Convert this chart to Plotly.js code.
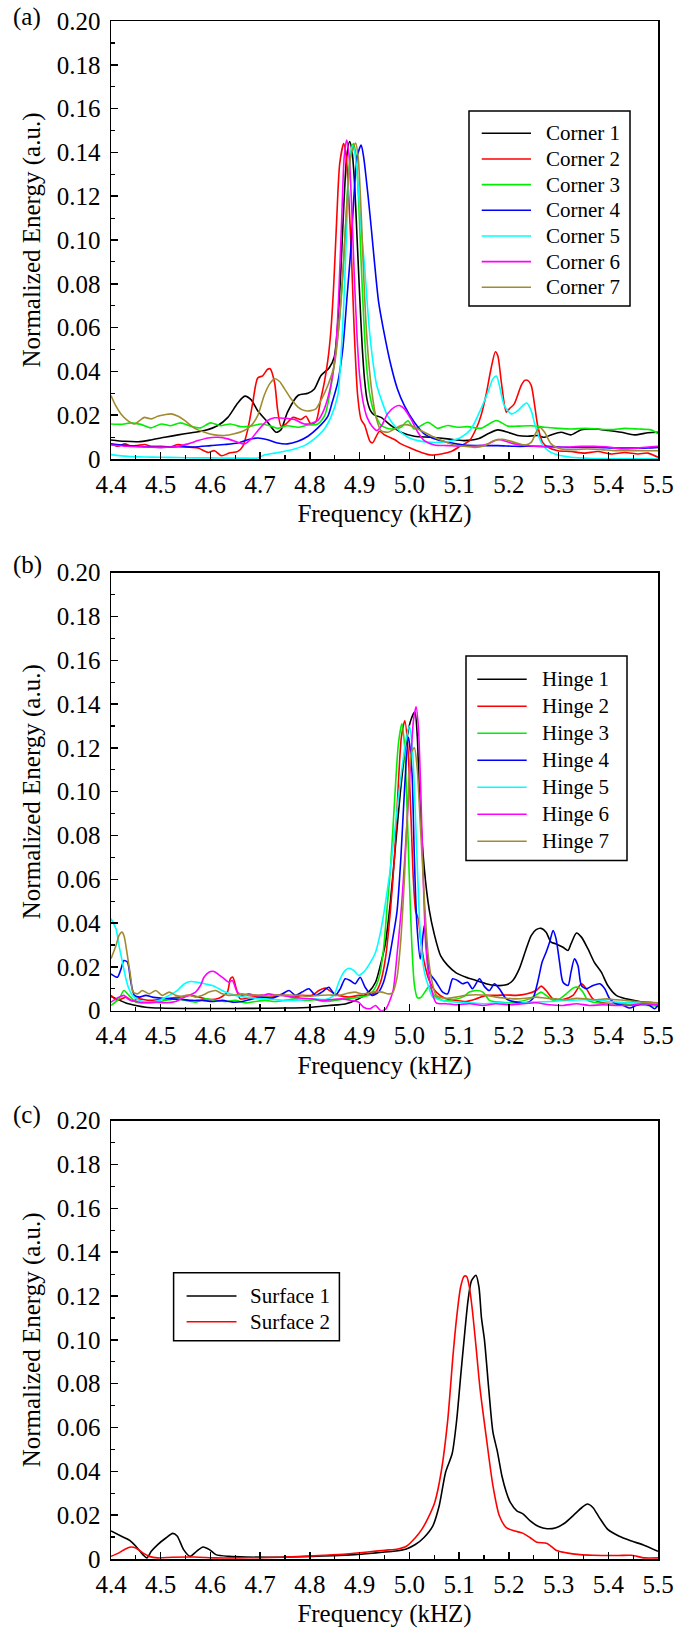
<!DOCTYPE html>
<html>
<head>
<meta charset="utf-8">
<script src="https://cdn.plot.ly/plotly-3.0.1.min.js"></script>
<style>
html,body{margin:0;padding:0;background:#fff;}
#chart{width:677px;height:1631px;}
</style>
</head>
<body>
<div id="chart"></div>
<script>
// ---------- tick labels ----------
const freqTicks = [4.4,4.5,4.6,4.7,4.8,4.9,5.0,5.1,5.2,5.3,5.4,5.5];
const freqTickText = ['4.4','4.5','4.6','4.7','4.8','4.9','5.0','5.1','5.2','5.3','5.4','5.5'];
const energyTicks = [0,0.02,0.04,0.06,0.08,0.10,0.12,0.14,0.16,0.18,0.20];
const energyTickText = ['0','0.02','0.04','0.06','0.08','0.10','0.12','0.14','0.16','0.18','0.20'];

// ---------- series names / colours ----------
const cornerNames = ['Corner 1','Corner 2','Corner 3','Corner 4','Corner 5','Corner 6','Corner 7'];
const hingeNames = ['Hinge 1','Hinge 2','Hinge 3','Hinge 4','Hinge 5','Hinge 6','Hinge 7'];
const surfaceNames = ['Surface 1','Surface 2'];
const seriesColors = ['#000000','#ff0000','#00ee00','#0000ff','#00ffff','#ff00ff','#a08c30'];

// ---------- panel (a): corners ----------
const corner1_f = [4.40,4.427,4.455,4.48,4.508,4.535,4.562,4.588,4.615,4.635,4.655,4.669,4.682,4.695,4.715,4.732,4.742,4.755,4.776,4.796,4.809,4.822,4.839,4.849,4.856,4.862,4.868,4.874,4.880,4.885,4.890,4.895,4.900,4.905,4.910,4.915,4.922,4.930,4.943,4.963,4.983,5.01,5.044,5.077,5.11,5.138,5.158,5.178,5.198,5.218,5.238,5.258,5.272,5.285,5.305,5.325,5.346,5.372,5.40,5.426,5.453,5.48,5.50];
const corner1_v = [0.0087,0.0081,0.0079,0.0087,0.0099,0.011,0.012,0.013,0.0153,0.019,0.0256,0.0287,0.027,0.022,0.0168,0.0122,0.0134,0.0214,0.029,0.030,0.032,0.038,0.0417,0.0466,0.062,0.085,0.115,0.138,0.145,0.140,0.125,0.100,0.075,0.052,0.036,0.027,0.022,0.020,0.019,0.0153,0.0122,0.0104,0.0099,0.0092,0.0084,0.0092,0.0115,0.0133,0.0122,0.0107,0.0104,0.0107,0.0099,0.011,0.0122,0.011,0.0134,0.0137,0.013,0.0122,0.011,0.012,0.0122];

const corner2_f = [4.40,4.414,4.428,4.441,4.455,4.468,4.481,4.501,4.52,4.535,4.555,4.575,4.595,4.608,4.622,4.638,4.655,4.665,4.675,4.685,4.695,4.705,4.715,4.72,4.729,4.735,4.742,4.752,4.766,4.782,4.792,4.802,4.812,4.822,4.829,4.836,4.842,4.848,4.854,4.86,4.868,4.873,4.878,4.884,4.889,4.896,4.903,4.91,4.921,4.926,4.94,4.95,4.97,4.983,5.003,5.024,5.044,5.064,5.084,5.104,5.121,5.134,5.144,5.154,5.164,5.173,5.178,5.185,5.195,5.201,5.211,5.225,5.232,5.238,5.245,5.252,5.258,5.268,5.279,5.299,5.325,5.352,5.379,5.406,5.433,5.46,5.48,5.50];
const corner2_v = [0.0069,0.0058,0.0069,0.0058,0.0063,0.0066,0.0058,0.0058,0.0055,0.0066,0.0055,0.005,0.003,0.0038,0.0015,0.0027,0.0035,0.0058,0.0134,0.0256,0.037,0.038,0.041,0.0412,0.0348,0.0226,0.015,0.016,0.019,0.018,0.0195,0.016,0.017,0.0275,0.035,0.045,0.058,0.08,0.11,0.135,0.144,0.138,0.12,0.09,0.059,0.029,0.018,0.0155,0.008,0.0074,0.0127,0.011,0.0089,0.0069,0.0049,0.003,0.0018,0.0023,0.0034,0.0061,0.0084,0.0137,0.0198,0.029,0.041,0.049,0.047,0.035,0.0214,0.0229,0.0252,0.0336,0.0359,0.0359,0.0336,0.0244,0.0153,0.0076,0.0053,0.0038,0.0034,0.0027,0.0034,0.0023,0.003,0.0023,0.0027,0.0008];

const corner3_f = [4.40,4.42,4.44,4.46,4.48,4.501,4.52,4.54,4.56,4.58,4.60,4.62,4.64,4.66,4.68,4.702,4.722,4.735,4.755,4.776,4.796,4.816,4.83,4.84,4.85,4.86,4.868,4.875,4.882,4.888,4.893,4.898,4.903,4.908,4.913,4.92,4.928,4.936,4.943,4.963,4.983,4.997,5.01,5.037,5.057,5.077,5.097,5.117,5.144,5.175,5.198,5.218,5.245,5.272,5.299,5.325,5.352,5.379,5.406,5.433,5.46,5.486,5.50];
const corner3_v = [0.016,0.0158,0.0165,0.0158,0.0142,0.016,0.0152,0.0165,0.015,0.0142,0.0165,0.0152,0.016,0.0148,0.015,0.016,0.015,0.014,0.0152,0.0145,0.0155,0.016,0.02,0.03,0.045,0.065,0.09,0.12,0.14,0.144,0.138,0.118,0.09,0.065,0.045,0.03,0.022,0.018,0.0153,0.0137,0.0145,0.0175,0.0137,0.0168,0.014,0.0153,0.0145,0.0148,0.014,0.0176,0.015,0.015,0.0152,0.0145,0.014,0.0137,0.014,0.0137,0.0134,0.014,0.0137,0.0133,0.0115];

const corner4_f = [4.40,4.433,4.467,4.50,4.535,4.568,4.60,4.628,4.655,4.675,4.695,4.715,4.735,4.755,4.776,4.796,4.816,4.836,4.845,4.856,4.866,4.875,4.882,4.888,4.895,4.903,4.908,4.917,4.924,4.93,4.938,4.948,4.963,4.976,4.99,5.01,5.03,5.05,5.077,5.11,5.144,5.178,5.211,5.245,5.279,5.312,5.346,5.379,5.413,5.446,5.48,5.50];
const corner4_v = [0.0069,0.0061,0.0056,0.0053,0.0056,0.0055,0.0061,0.0066,0.0073,0.0088,0.0096,0.0088,0.0073,0.0069,0.0081,0.0104,0.0142,0.0195,0.026,0.035,0.05,0.075,0.095,0.118,0.138,0.1433,0.138,0.12,0.104,0.0895,0.072,0.059,0.0427,0.032,0.0244,0.0168,0.0115,0.0092,0.0076,0.0064,0.0061,0.0061,0.0058,0.0058,0.0058,0.0053,0.0053,0.0053,0.005,0.005,0.005,0.0053];

const corner5_f = [4.40,4.433,4.467,4.50,4.535,4.568,4.60,4.635,4.668,4.695,4.708,4.729,4.749,4.769,4.789,4.809,4.829,4.842,4.856,4.862,4.868,4.873,4.878,4.885,4.89,4.895,4.90,4.905,4.91,4.915,4.92,4.927,4.934,4.943,4.956,4.976,4.997,5.017,5.044,5.077,5.104,5.124,5.141,5.158,5.168,5.175,5.181,5.191,5.205,5.218,5.228,5.236,5.245,5.253,5.265,5.279,5.299,5.325,5.359,5.413,5.46,5.50];
const corner5_v = [0.002,0.0012,0.0009,0.0008,0.0007,0.0005,0.0005,0.0004,0.0004,0.0005,0.0018,0.0027,0.0035,0.0046,0.0061,0.0092,0.0137,0.019,0.029,0.045,0.07,0.1,0.128,0.143,0.14,0.13,0.115,0.1,0.088,0.072,0.058,0.044,0.034,0.0275,0.0198,0.0137,0.0099,0.0084,0.0076,0.008,0.0099,0.0137,0.0214,0.0305,0.0366,0.0379,0.0336,0.0244,0.0206,0.0221,0.0244,0.0256,0.0221,0.0153,0.0076,0.0038,0.0018,0.0008,0.0003,0.0001,0.0001,0.0001];

const corner6_f = [4.40,4.433,4.467,4.50,4.535,4.555,4.575,4.595,4.615,4.635,4.655,4.668,4.682,4.698,4.715,4.729,4.749,4.769,4.789,4.802,4.816,4.829,4.842,4.852,4.858,4.864,4.869,4.874,4.879,4.884,4.889,4.895,4.90,4.907,4.915,4.925,4.935,4.945,4.956,4.97,4.98,4.99,5.003,5.017,5.03,5.05,5.077,5.11,5.138,5.158,5.178,5.195,5.211,5.238,5.265,5.292,5.319,5.346,5.372,5.40,5.426,5.453,5.48,5.50];
const corner6_v = [0.0064,0.0058,0.0055,0.0053,0.0058,0.0069,0.0084,0.0096,0.0099,0.0092,0.0076,0.0069,0.0092,0.0137,0.0176,0.0188,0.0186,0.018,0.016,0.0162,0.0176,0.0229,0.0336,0.05,0.075,0.11,0.138,0.1456,0.138,0.115,0.085,0.055,0.038,0.026,0.019,0.015,0.013,0.0155,0.0206,0.0237,0.0244,0.0229,0.0183,0.0122,0.0084,0.0064,0.0061,0.0058,0.006,0.0069,0.0089,0.008,0.0069,0.0061,0.0056,0.0053,0.0055,0.0058,0.0058,0.0055,0.0046,0.0048,0.0055,0.0058];

const corner7_f = [4.40,4.41,4.42,4.433,4.447,4.46,4.467,4.481,4.494,4.508,4.521,4.535,4.548,4.568,4.588,4.608,4.628,4.648,4.668,4.682,4.695,4.708,4.719,4.729,4.739,4.749,4.762,4.776,4.789,4.802,4.812,4.822,4.836,4.849,4.858,4.866,4.874,4.882,4.892,4.897,4.902,4.907,4.912,4.918,4.925,4.933,4.943,4.957,4.97,4.983,4.997,5.01,5.03,5.05,5.07,5.09,5.11,5.131,5.151,5.171,5.191,5.211,5.232,5.245,5.255,5.262,5.272,5.285,5.305,5.332,5.359,5.386,5.413,5.44,5.466,5.50];
const corner7_v = [0.029,0.0241,0.0206,0.0176,0.016,0.018,0.019,0.0183,0.0195,0.0202,0.0206,0.0195,0.0176,0.014,0.0122,0.011,0.0107,0.0115,0.013,0.0153,0.0198,0.029,0.0343,0.0366,0.0354,0.032,0.0275,0.0237,0.0221,0.0221,0.0229,0.0267,0.0336,0.0427,0.06,0.085,0.115,0.138,0.1443,0.138,0.118,0.09,0.065,0.045,0.03,0.019,0.013,0.0122,0.0137,0.0153,0.0156,0.0145,0.0122,0.0099,0.008,0.0064,0.0058,0.0053,0.0061,0.0084,0.0089,0.0076,0.0064,0.0076,0.0122,0.0145,0.0122,0.0069,0.0046,0.0043,0.0046,0.0043,0.0038,0.0038,0.0038,0.0038];

// ---------- panel (b): hinges ----------
const hinge1_f = [4.40,4.415,4.43,4.45,4.47,4.50,4.55,4.60,4.65,4.70,4.75,4.804,4.838,4.871,4.898,4.918,4.932,4.942,4.952,4.962,4.972,4.982,4.992,5.002,5.011,5.016,5.02,5.03,5.04,5.05,5.063,5.077,5.094,5.114,5.134,5.154,5.174,5.195,5.208,5.221,5.235,5.245,5.255,5.265,5.275,5.285,5.295,5.309,5.319,5.325,5.336,5.346,5.359,5.372,5.386,5.399,5.416,5.436,5.463,5.49,5.50];
const hinge1_v = [0.0065,0.005,0.0035,0.0024,0.0016,0.0012,0.001,0.001,0.001,0.0011,0.0012,0.0016,0.0024,0.0031,0.0054,0.0085,0.013,0.021,0.031,0.05,0.075,0.1,0.12,0.132,0.1365,0.125,0.1,0.065,0.046,0.035,0.025,0.0207,0.0173,0.0153,0.0138,0.0123,0.0115,0.0118,0.0138,0.0191,0.0283,0.0343,0.037,0.0376,0.0358,0.0313,0.0305,0.029,0.0275,0.0305,0.0355,0.0336,0.0283,0.0221,0.0176,0.0115,0.007,0.0054,0.0042,0.0036,0.0032];

const hinge2_f = [4.40,4.413,4.43,4.443,4.457,4.477,4.497,4.517,4.537,4.557,4.577,4.597,4.617,4.634,4.64,4.645,4.652,4.66,4.684,4.704,4.724,4.744,4.764,4.784,4.804,4.818,4.831,4.844,4.858,4.878,4.898,4.918,4.932,4.942,4.952,4.962,4.97,4.977,4.984,4.991,4.997,5.003,5.008,5.013,5.018,5.023,5.03,5.04,5.054,5.074,5.094,5.114,5.134,5.154,5.174,5.195,5.215,5.235,5.255,5.265,5.275,5.289,5.309,5.329,5.346,5.356,5.369,5.389,5.416,5.443,5.47,5.50];
const hinge2_v = [0.007,0.0047,0.0062,0.0045,0.0054,0.0047,0.0051,0.0057,0.0062,0.007,0.0062,0.0051,0.0057,0.0085,0.0146,0.0153,0.01,0.0054,0.0062,0.007,0.0062,0.0072,0.0062,0.007,0.007,0.0092,0.0103,0.0085,0.007,0.0062,0.007,0.0072,0.0085,0.013,0.024,0.046,0.07,0.1,0.125,0.1324,0.12,0.09,0.06,0.045,0.042,0.032,0.022,0.0138,0.0085,0.0054,0.0047,0.0042,0.0054,0.007,0.007,0.0072,0.007,0.0076,0.0092,0.0112,0.0092,0.0054,0.0051,0.007,0.0123,0.01,0.0054,0.0036,0.0032,0.0027,0.0032,0.0024];

const hinge3_f = [4.40,4.416,4.426,4.436,4.45,4.47,4.49,4.51,4.53,4.55,4.57,4.59,4.61,4.63,4.65,4.67,4.69,4.71,4.73,4.75,4.77,4.79,4.81,4.83,4.85,4.87,4.90,4.918,4.93,4.94,4.948,4.955,4.962,4.97,4.978,4.985,4.99,4.995,5.0,5.005,5.01,5.016,5.023,5.034,5.04,5.05,5.067,5.087,5.107,5.121,5.134,5.148,5.161,5.181,5.201,5.221,5.242,5.255,5.265,5.275,5.289,5.302,5.315,5.329,5.339,5.349,5.359,5.376,5.403,5.43,5.456,5.483,5.50];
const hinge3_v = [0.0024,0.0054,0.0092,0.007,0.0039,0.0036,0.0038,0.0047,0.0054,0.0047,0.0039,0.0054,0.0047,0.0042,0.0047,0.0036,0.0042,0.0047,0.0042,0.0047,0.0054,0.0047,0.005,0.0042,0.0047,0.0054,0.0062,0.007,0.01,0.016,0.028,0.0465,0.065,0.095,0.122,0.131,0.122,0.095,0.06,0.03,0.012,0.006,0.006,0.0095,0.0112,0.007,0.0047,0.005,0.0062,0.0085,0.0092,0.0085,0.0047,0.0039,0.0036,0.0042,0.0054,0.0072,0.0085,0.007,0.0047,0.0054,0.0076,0.0103,0.0107,0.0085,0.0047,0.0036,0.0032,0.0032,0.0027,0.0024,0.0021];

const hinge4_f = [4.40,4.413,4.42,4.426,4.433,4.44,4.447,4.457,4.47,4.483,4.503,4.523,4.543,4.564,4.584,4.604,4.624,4.644,4.664,4.684,4.704,4.724,4.744,4.758,4.771,4.784,4.798,4.811,4.824,4.838,4.851,4.861,4.871,4.881,4.891,4.901,4.911,4.925,4.938,4.948,4.958,4.965,4.975,4.983,4.99,4.998,5.005,5.01,5.015,5.022,5.03,5.036,5.04,5.054,5.067,5.077,5.087,5.097,5.107,5.117,5.127,5.141,5.151,5.161,5.171,5.181,5.195,5.215,5.235,5.248,5.258,5.267,5.275,5.282,5.289,5.295,5.302,5.309,5.319,5.325,5.332,5.339,5.346,5.356,5.369,5.383,5.393,5.403,5.416,5.43,5.443,5.456,5.47,5.483,5.493,5.50];
const hinge4_v = [0.0168,0.0153,0.019,0.0229,0.0222,0.013,0.007,0.0062,0.007,0.0062,0.0057,0.0054,0.0051,0.0047,0.0047,0.0042,0.0047,0.0039,0.0042,0.0054,0.0062,0.0057,0.0076,0.0092,0.007,0.0085,0.01,0.007,0.0085,0.0107,0.007,0.01,0.0146,0.0138,0.0123,0.0153,0.0107,0.007,0.0085,0.013,0.0222,0.031,0.045,0.07,0.1,0.125,0.11,0.07,0.04,0.0236,0.039,0.025,0.0176,0.013,0.0085,0.0077,0.0146,0.0138,0.0123,0.013,0.01,0.0146,0.011,0.0092,0.0123,0.01,0.0054,0.0039,0.0036,0.0054,0.013,0.0222,0.0267,0.0313,0.0366,0.0328,0.0222,0.013,0.0115,0.0176,0.0237,0.0206,0.0115,0.01,0.0115,0.0123,0.01,0.0054,0.0032,0.0024,0.0012,0.0024,0.0032,0.0024,0.0009,0.0024];

const hinge5_f = [4.40,4.41,4.416,4.423,4.43,4.436,4.443,4.457,4.477,4.497,4.517,4.533,4.547,4.56,4.574,4.59,4.604,4.617,4.63,4.65,4.67,4.69,4.71,4.73,4.75,4.77,4.79,4.811,4.831,4.848,4.858,4.868,4.878,4.888,4.898,4.908,4.918,4.932,4.942,4.948,4.955,4.962,4.972,4.982,4.992,5.0,5.006,5.012,5.017,5.022,5.03,5.04,5.047,5.067,5.094,5.121,5.148,5.181,5.215,5.248,5.282,5.315,5.349,5.383,5.416,5.45,5.483,5.50];
const hinge5_v = [0.042,0.0374,0.0298,0.0222,0.0146,0.01,0.007,0.0047,0.0039,0.0047,0.007,0.0092,0.0122,0.0133,0.013,0.0122,0.0115,0.01,0.0085,0.007,0.0062,0.0057,0.0054,0.0051,0.0047,0.0047,0.0051,0.0054,0.0051,0.007,0.013,0.0176,0.0194,0.0184,0.0161,0.0176,0.0207,0.0267,0.0359,0.0435,0.054,0.065,0.085,0.105,0.122,0.13,0.12,0.09,0.06,0.035,0.018,0.01,0.0062,0.0047,0.0039,0.0036,0.0032,0.0036,0.0032,0.0039,0.0042,0.0047,0.005,0.0047,0.0039,0.0036,0.0032,0.0036];

const hinge6_f = [4.40,4.416,4.426,4.436,4.45,4.47,4.49,4.51,4.53,4.543,4.557,4.57,4.58,4.587,4.597,4.607,4.617,4.627,4.637,4.644,4.654,4.664,4.677,4.69,4.704,4.717,4.73,4.744,4.764,4.784,4.804,4.824,4.845,4.865,4.884,4.898,4.908,4.921,4.932,4.942,4.952,4.962,4.968,4.975,4.985,4.995,5.003,5.008,5.0135,5.018,5.023,5.028,5.033,5.04,5.054,5.074,5.094,5.121,5.148,5.174,5.201,5.228,5.255,5.282,5.309,5.336,5.362,5.389,5.416,5.443,5.47,5.50];
const hinge6_v = [0.0039,0.0062,0.007,0.0051,0.0042,0.0036,0.0039,0.0036,0.0042,0.0057,0.007,0.0085,0.0115,0.0153,0.0176,0.0179,0.0164,0.0146,0.013,0.0138,0.0085,0.007,0.0077,0.007,0.007,0.0077,0.0072,0.007,0.0062,0.0057,0.0054,0.0047,0.0051,0.0054,0.0047,0.0039,0.0016,0.0009,0.0024,0.0001,0.0006,0.0054,0.01,0.025,0.05,0.085,0.115,0.132,0.1388,0.13,0.1,0.06,0.03,0.015,0.0036,0.0032,0.0027,0.0032,0.0024,0.0032,0.0027,0.0032,0.0036,0.0027,0.0024,0.0032,0.0024,0.0027,0.0024,0.0024,0.0032,0.0027];

const hinge7_f = [4.40,4.41,4.416,4.422,4.426,4.433,4.44,4.444,4.453,4.463,4.477,4.49,4.503,4.517,4.53,4.543,4.557,4.57,4.584,4.597,4.61,4.624,4.637,4.65,4.664,4.677,4.69,4.704,4.717,4.73,4.744,4.757,4.777,4.797,4.818,4.838,4.858,4.878,4.891,4.904,4.918,4.932,4.945,4.958,4.966,4.975,4.982,4.99,4.997,5.004,5.01,5.016,5.022,5.028,5.033,5.038,5.044,5.054,5.074,5.094,5.114,5.134,5.154,5.174,5.195,5.215,5.235,5.255,5.275,5.295,5.315,5.336,5.356,5.376,5.396,5.416,5.436,5.456,5.476,5.50];
const hinge7_v = [0.0237,0.0298,0.0343,0.0359,0.0343,0.0252,0.0146,0.0085,0.0077,0.0092,0.0077,0.0092,0.007,0.0085,0.007,0.0066,0.0072,0.0062,0.007,0.0085,0.0092,0.0077,0.007,0.0072,0.0077,0.007,0.0072,0.007,0.0066,0.0072,0.007,0.0072,0.007,0.0066,0.007,0.0072,0.007,0.0081,0.0085,0.0077,0.0081,0.0087,0.0085,0.0077,0.008,0.015,0.03,0.06,0.095,0.118,0.12,0.11,0.085,0.06,0.04,0.025,0.015,0.007,0.0057,0.0062,0.007,0.0073,0.007,0.0062,0.0057,0.0054,0.0057,0.0062,0.0057,0.0054,0.005,0.0057,0.0054,0.005,0.0054,0.005,0.0047,0.0042,0.0039,0.0036];

// ---------- panel (c): surfaces ----------
const surface1_f = [4.40,4.42,4.437,4.45,4.464,4.472,4.481,4.494,4.511,4.524,4.533,4.546,4.559,4.572,4.585,4.598,4.611,4.638,4.672,4.716,4.759,4.803,4.846,4.89,4.933,4.968,4.994,5.012,5.029,5.047,5.06,5.073,5.086,5.095,5.103,5.11,5.118,5.125,5.134,5.14,5.145,5.151,5.16,5.168,5.177,5.186,5.195,5.203,5.216,5.229,5.243,5.26,5.277,5.295,5.312,5.329,5.347,5.358,5.369,5.382,5.399,5.421,5.447,5.473,5.50];
const surface1_v = [0.0128,0.0105,0.0086,0.0058,0.002,0.0005,0.0035,0.0066,0.0097,0.0117,0.0105,0.0043,0.0012,0.0035,0.0055,0.0043,0.002,0.0012,0.0009,0.0008,0.0009,0.0012,0.0015,0.002,0.0028,0.0035,0.0046,0.0066,0.0097,0.015,0.0243,0.0397,0.048,0.063,0.083,0.1,0.118,0.127,0.1295,0.124,0.11,0.1,0.0766,0.058,0.049,0.038,0.0305,0.0258,0.022,0.0205,0.0174,0.0148,0.0138,0.0143,0.0163,0.0197,0.0235,0.0251,0.0235,0.0189,0.0135,0.0105,0.0082,0.0062,0.0035];

const surface2_f = [4.40,4.416,4.429,4.44,4.45,4.464,4.477,4.494,4.524,4.568,4.611,4.655,4.699,4.742,4.786,4.829,4.873,4.916,4.951,4.977,4.994,5.012,5.025,5.038,5.051,5.064,5.077,5.088,5.095,5.103,5.11,5.115,5.12,5.126,5.134,5.142,5.155,5.168,5.181,5.195,5.212,5.229,5.243,5.256,5.277,5.295,5.316,5.343,5.369,5.395,5.421,5.447,5.473,5.50];
const surface2_v = [0.0012,0.0028,0.0046,0.0055,0.005,0.0028,0.0012,0.0005,0.0008,0.0009,0.0005,0.0005,0.0006,0.0008,0.0012,0.0017,0.0023,0.0032,0.004,0.0046,0.0058,0.0097,0.0135,0.0189,0.0258,0.0397,0.063,0.0935,0.11,0.124,0.129,0.129,0.125,0.115,0.097,0.078,0.055,0.0335,0.0197,0.0143,0.0128,0.0117,0.0097,0.0077,0.0071,0.004,0.0028,0.002,0.0017,0.0016,0.0016,0.0017,0.0005,0.0005];

// ---------- assemble ----------
const FONT = 'Liberation Serif';
const panels = [
  {xa:'x', ya:'y', names: cornerNames, data: [[corner1_f,corner1_v],[corner2_f,corner2_v],[corner3_f,corner3_v],[corner4_f,corner4_v],[corner5_f,corner5_v],[corner6_f,corner6_v],[corner7_f,corner7_v]]},
  {xa:'x2', ya:'y2', names: hingeNames, data: [[hinge1_f,hinge1_v],[hinge2_f,hinge2_v],[hinge3_f,hinge3_v],[hinge4_f,hinge4_v],[hinge5_f,hinge5_v],[hinge6_f,hinge6_v],[hinge7_f,hinge7_v]]},
  {xa:'x3', ya:'y3', names: surfaceNames, data: [[surface1_f,surface1_v],[surface2_f,surface2_v]]}
];

const traces = [];
const problems = [];
panels.forEach(p => {
  p.data.forEach((d, i) => {
    if (d[0].length !== d[1].length) problems.push(p.names[i] + ': ' + d[0].length + ' vs ' + d[1].length);
    traces.push({
      type: 'scatter', mode: 'lines', x: d[0], y: d[1], name: p.names[i],
      xaxis: p.xa, yaxis: p.ya, showlegend: false,
      line: {color: seriesColors[i], width: 1.6, shape: 'spline', smoothing: 0.7}
    });
  });
});
if (problems.length) throw new Error('Length mismatch: ' + problems.join('; '));

// page geometry (px) -> paper
const W = 677, H = 1631, ML = 111, MR = 19, MT = 21, MB = 72;
const PW = W - ML - MR, PH = H - MT - MB;
const px = v => (v - ML) / PW;
const py = v => (H - MB - v) / PH;

const minorOf = arr => arr.slice(1).map((t, i) => (t + arr[i]) / 2);

function xAxis(anchor) {
  return {
    anchor: anchor, domain: [0, 1], range: [4.4, 5.5],
    showgrid: false, zeroline: false, showline: true, mirror: true,
    linecolor: '#000', linewidth: 1.5,
    ticks: 'inside', ticklen: 7, tickwidth: 1.5, tickcolor: '#000',
    tickmode: 'array', tickvals: freqTicks, ticktext: freqTickText,
    ticklabelstandoff: 2,
    tickfont: {family: FONT, size: 25, color: '#000'},
    minor: {tickmode: 'array', tickvals: minorOf(freqTicks), ticks: 'inside', ticklen: 4, tickwidth: 1.2, tickcolor: '#000', showgrid: false},
    title: {text: 'Frequency (kHZ)', font: {family: FONT, size: 25, color: '#000'}, standoff: 8},
    fixedrange: true
  };
}
function yAxis(anchor, dom) {
  return {
    anchor: anchor, domain: dom, range: [0, 0.2],
    showgrid: false, zeroline: false, showline: true, mirror: true,
    linecolor: '#000', linewidth: 1.5,
    ticks: 'inside', ticklen: 7, tickwidth: 1.5, tickcolor: '#000',
    tickmode: 'array', tickvals: energyTicks, ticktext: energyTickText,
    ticklabelstandoff: 4,
    tickfont: {family: FONT, size: 25, color: '#000'},
    minor: {tickmode: 'array', tickvals: minorOf(energyTicks), ticks: 'inside', ticklen: 4, tickwidth: 1.2, tickcolor: '#000', showgrid: false},
    title: {text: 'Normalized Energy (a.u.)', font: {family: FONT, size: 25, color: '#000'}, standoff: 9},
    fixedrange: true
  };
}

const shapes = [];
const annotations = [];
function legendBox(names, box, firstY, step, sx0, sx1, tx) {
  shapes.push({type: 'rect', xref: 'paper', yref: 'paper', x0: px(box[0]), x1: px(box[1]), y0: py(box[3]), y1: py(box[2]),
    line: {color: '#000', width: 1.5}, fillcolor: '#fff', layer: 'above'});
  names.forEach((n, i) => {
    const yy = firstY + i * step;
    shapes.push({type: 'line', xref: 'paper', yref: 'paper', x0: px(sx0), x1: px(sx1), y0: py(yy), y1: py(yy),
      line: {color: seriesColors[i], width: 1.6}, layer: 'above'});
    annotations.push({xref: 'paper', yref: 'paper', x: px(tx), y: py(yy), xanchor: 'left', yanchor: 'middle',
      text: n, showarrow: false, font: {family: FONT, size: 21, color: '#000'}});
  });
}
legendBox(cornerNames, [469, 630, 111, 306], 133.3, 25.67, 481.7, 531, 544);
legendBox(hingeNames, [466, 627, 656, 860.5], 679.3, 27.0, 477.3, 526.7, 540);
legendBox(surfaceNames, [173.6, 339.4, 1272.7, 1340.7], 1296, 25.7, 186.6, 236.5, 248.3);

[['(a)', 17], ['(b)', 565], ['(c)', 1115]].forEach(l => {
  annotations.push({xref: 'paper', yref: 'paper', x: px(27), y: py(l[1]), xanchor: 'center', yanchor: 'middle',
    text: l[0], showarrow: false, font: {family: FONT, size: 25, color: '#000'}});
});

const layout = {
  width: W, height: H,
  margin: {l: ML, r: MR, t: MT, b: MB, pad: 0},
  paper_bgcolor: '#fff', plot_bgcolor: '#fff',
  showlegend: false,
  font: {family: FONT, color: '#000'},
  xaxis: xAxis('y'), xaxis2: xAxis('y2'), xaxis3: xAxis('y3'),
  yaxis: yAxis('x', [py(459), py(20.7)]),
  yaxis2: yAxis('x2', [py(1010.7), py(572.7)]),
  yaxis3: yAxis('x3', [Math.max(0, py(1559.3)), py(1120.7)]),
  shapes: shapes, annotations: annotations
};

Plotly.newPlot('chart', traces, layout, {staticPlot: true, displayModeBar: false});
</script>
</body>
</html>
